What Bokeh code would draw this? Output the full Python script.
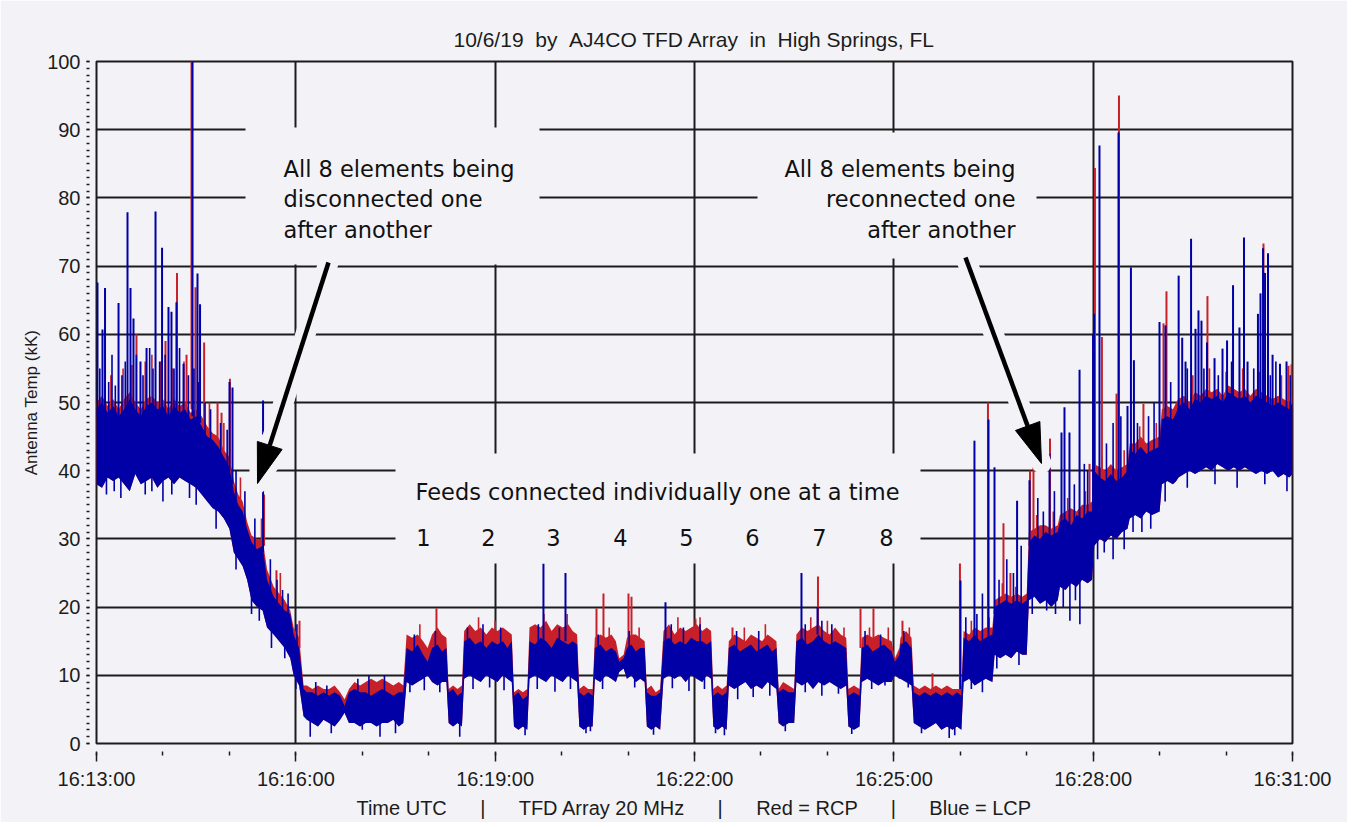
import math
import numpy as np
from bokeh.plotting import figure
from bokeh.models import FixedTicker, Label, ColumnDataSource
from bokeh.embed import file_html
from bokeh.resources import INLINE

# ---------------- data ----------------
tick_seconds = [0, 180, 360, 540, 720, 900, 1080]          # seconds after 16:13:00 UTC
tick_labels = ["16:13:00", "16:16:00", "16:19:00", "16:22:00", "16:25:00", "16:28:00", "16:31:00"]
minor_seconds = list(range(0, 1081, 60))
y_major = list(range(0, 101, 10))
y_minor = list(range(0, 101, 1))

# dense band: time (s after 16:13:00), LCP low/high envelope, RCP high envelope (kK)
t_s = [0, 5, 10, 15, 20, 25, 30, 35, 40, 45, 50, 55, 60, 65, 70, 75, 80, 85, 90,
       95, 100, 105, 110, 115, 120, 124, 128, 132, 136, 140, 145, 150, 154, 160, 165, 170, 175, 178, 183, 187,
       190, 195, 200, 205, 210, 215, 220, 224, 228, 233, 238, 243, 248, 253, 258, 263, 268, 273, 277,
       280, 285, 290, 295, 299, 303, 308, 312, 316,
       318, 322, 326, 330,
       332, 337, 342, 347, 352, 357, 362, 367, 371, 375,
       377, 381, 385, 389,
       391, 396, 401, 406, 411, 416, 421, 426, 430, 434,
       436, 440, 444, 448,
       450, 455, 460, 465, 469, 472, 476, 479, 483, 487, 491, 495,
       497, 501, 505, 509,
       512, 517, 522, 527, 532, 537, 542, 547, 551, 555,
       557, 561, 565, 569,
       571, 576, 581, 586, 591, 596, 601, 606, 610, 614,
       616, 620, 625, 630,
       632, 637, 642, 647, 652, 657, 662, 667, 672, 677,
       679, 684, 689,
       691, 696, 701, 706, 711, 718, 721, 725, 726, 731, 736,
       738, 743, 748, 753, 758, 763, 768, 773, 777, 781,
       783, 788, 793, 798, 803, 809,
       811, 816, 821, 826, 831, 836, 840,
       842, 847, 852, 857, 862, 868,
       870, 875, 880, 885, 890, 895, 899,
       901, 906, 911, 916, 921, 926, 931,
       933, 938, 943, 948, 953, 960,
       962, 967, 972, 975,
       977, 982, 987, 992, 997, 1002, 1007, 1012, 1017, 1022, 1027, 1032, 1037, 1042, 1047, 1052,
       1057, 1062, 1067, 1072, 1077, 1080]
lcp_lo = [38, 37.5, 39, 38.5, 39, 38, 37, 39.5, 38, 38.5, 39, 37.5, 38.5, 39, 38, 39, 38.5, 38, 37.5,
          36.5, 35.5, 34.5, 34, 33, 31.5, 28, 27, 26, 24, 21, 20, 19.5, 17, 16, 15, 14, 12.5, 10, 8.5, 4,
          3.5, 3, 2.5, 3.5, 3, 2.5, 3.5, 4.5, 3, 3, 2.5, 3, 3, 2.5, 3, 3, 3.5, 2.5, 3,
          9, 8.5, 9, 9.5, 10, 9, 8.5, 9, 9,
          3, 2.5, 3, 2.5,
          9.5, 10, 9.5, 9, 10, 9.5, 9, 10, 9.5, 9,
          2.5, 2, 2.5, 2,
          9.5, 10, 9.5, 9, 10, 9.5, 9, 10, 9.5, 9,
          2.5, 2, 2.5, 2.5,
          9.5, 9, 10, 9.5, 9, 10.5, 11, 9.5, 10, 9, 9.5, 9,
          2.5, 2, 2.5, 2,
          9.5, 10, 9.5, 10, 9, 10, 9.5, 9, 10, 9.5,
          2.5, 2, 2.5, 2,
          8.5, 8, 8.5, 9, 8, 8.5, 8, 9, 8.5, 8,
          3, 2.5, 3, 3,
          9, 8.5, 9, 8, 9, 8.5, 9, 8.5, 8, 8.5,
          2.5, 2, 2.5,
          9, 9.5, 9, 8.5, 9, 9, 10, 9.5, 9.5, 9, 8.5,
          3, 2.5, 2, 2.5, 3, 2, 2.5, 2, 2.5, 2,
          9, 9.5, 8.5, 9, 9.5, 9,
          13, 12.5, 13, 12.5, 13.5, 13, 13,
          21, 21.5, 20.5, 21, 20, 21,
          23, 22.5, 23.5, 23, 24, 23.5, 24,
          29, 30, 29.5, 30.5, 30, 31, 31.5,
          33, 33.5, 33, 34, 33.5, 34,
          38, 38.5, 38, 38.5,
          39, 39.5, 40, 39.5, 40, 40.5, 40, 41, 40.5, 40, 40.5, 40, 40.5, 40, 39.5, 40,
          39.5, 40, 39, 39.5, 39, 39.5]
lcp_hi = [49, 50, 48.5, 49.5, 48, 49, 50.5, 49, 48, 49.5, 50, 49, 49.5, 48, 49.5, 48.5, 49, 47.5, 48,
          46.5, 45, 44.5, 43.5, 42, 40.5, 37, 35, 34, 31.5, 29.5, 28.5, 29, 24, 21.5, 20.5, 19.5, 19, 16, 14, 8,
          7.5, 7.5, 7, 7.5, 7, 7.5, 7, 5.5, 7.5, 8, 7.5, 7.5, 7, 7.5, 8, 7.5, 7, 7.5, 7.5,
          14, 13.5, 14.5, 13, 12, 14, 14.5, 13.5, 14,
          7.5, 8, 7, 7.5,
          15, 15.5, 14.5, 15, 14, 15, 14.5, 15, 14, 15,
          7, 7.5, 6.5, 7,
          15, 14.5, 15.5, 15, 14, 15.5, 15, 14.5, 15, 14.5,
          7.5, 7, 7.5, 7,
          14, 14.5, 13.5, 14, 13.5, 12, 12.5, 14, 14.5, 13.5, 14, 14,
          7.5, 7, 7, 7.5,
          15, 15.5, 14.5, 15, 14.5, 15.5, 15, 15, 14.5, 15,
          7, 7.5, 7, 7.5,
          14, 14.5, 13.5, 14, 14.5, 13.5, 14, 14.5, 13.5, 14,
          7.5, 8, 7.5, 7.5,
          15, 15.5, 14.5, 15, 16, 15, 14.5, 15, 14.5, 14,
          7, 7.5, 7,
          14, 14.5, 13.5, 14, 14.5, 13.5, 12, 13, 14.5, 15, 14,
          7.5, 7, 7.5, 7, 7.5, 7, 7.5, 7, 7.5, 7,
          15.5, 15, 16, 15, 15.5, 16,
          20, 20.5, 21, 20.5, 21, 20.5, 21,
          29.5, 30.5, 30, 31, 30.5, 31,
          32.5, 33, 32, 33.5, 33, 34, 34,
          40, 39, 38.5, 39.5, 38.5, 39, 40,
          43, 42.5, 43.5, 42.5, 43, 43.5,
          47.5, 48, 47.5, 48.5,
          49.5, 50, 49, 50.5, 50, 51, 50.5, 51, 50, 51.5, 51, 50.5, 51, 50, 51, 50.5,
          50, 49.5, 50, 49.5, 49, 50]
rcp_hi = [50, 51, 49.5, 50.5, 49, 50.5, 51.5, 50, 49, 50.5, 51, 50, 50.5, 49, 50.5, 49.5, 50, 48.5, 49,
          48, 46.5, 45.5, 45, 43, 42, 38.5, 36.5, 35.5, 32.5, 30.5, 30, 30, 25.5, 23, 22, 21, 19.5, 17, 15.5, 8.5,
          8.5, 8, 8.5, 8, 8, 8.5, 7.5, 6.5, 8, 9, 8.5, 9, 9.5, 9, 9.5, 9, 8.5, 9, 8.5,
          16, 15.5, 16, 15, 14, 16, 17, 16, 15.5,
          8, 8.5, 8, 8.5,
          16.5, 17.5, 16.5, 17, 16, 17, 16.5, 17, 16.5, 16,
          7.5, 8, 7.5, 8,
          17, 17.5, 17, 18, 16.5, 17.5, 17, 17.5, 16.5, 16,
          8, 8.5, 8, 8,
          15.5, 16, 15.5, 16, 15, 12.5, 13, 15.5, 16, 16, 15.5, 15,
          8, 8.5, 7.5, 8,
          16.5, 17.5, 16, 17, 16.5, 17, 17.5, 16.5, 17, 16.5,
          8, 8.5, 8, 8.5,
          15, 16, 15.5, 15, 16, 15.5, 15, 16, 15.5, 15,
          8, 9, 8.5, 8,
          16, 17, 16.5, 17, 17.5, 16.5, 16, 17, 16, 15.5,
          8, 8.5, 8,
          15.5, 16, 15.5, 16, 15.5, 15, 12.5, 14, 15.5, 16.5, 15.5,
          8.5, 8, 8.5, 8, 8.5, 8, 8.5, 8, 8, 8,
          16.5, 16, 17, 16.5, 17, 17,
          21, 21.5, 22, 21.5, 22, 21.5, 22,
          31, 31.5, 32, 32, 31.5, 32,
          33.5, 34, 34.5, 34, 35, 35, 35.5,
          41, 40.5, 40, 41, 40, 40.5, 41,
          44, 44, 45, 44, 44.5, 45,
          49, 49.5, 49, 50,
          50.5, 51, 50, 51.5, 51, 52, 51.5, 52, 51, 52.5, 52, 51.5, 52, 51, 52, 51.5,
          51, 50.5, 51, 50.5, 50, 51]

# isolated spikes (time s, from, to) for LCP (blue) and RCP (red)
lcp_spike_t = [0.9, 5.4, 7.7, 19.9, 28.0, 30.7, 33.4, 39.7, 45.2, 53.3, 59.2, 65.0, 67.7, 72.2, 78.6, 86.7,
               91.2, 93.5, 120.1, 122.8, 150.4,
               403.6, 423.5, 513.8, 636.6, 651.1,
               780.2, 792.8, 805.5, 810.9, 831.3, 842.5, 860.6, 871.4, 874.1, 878.6, 887.7, 899.9, 900.8,
               905.7, 922.9, 931.0, 934.1, 936.8, 959.9, 965.3, 977.2, 980.4, 983.4, 988.4, 992.4, 995.1,
               997.8, 1002.8, 1009.6, 1016.8, 1020.9, 1026.3, 1032.1, 1036.2, 1039.4, 1048.8, 1051.1,
               1053.4, 1055.2, 1057.9, 1062.0, 1068.7, 1074.6]
lcp_spike_lo = [48, 48, 48, 48, 48, 48, 48, 48, 48, 48, 48, 48, 48, 48, 48, 48,
                47, 47, 40, 38, 28,
                15, 15, 15, 15, 16,
                8, 15, 15, 19, 20, 29, 30, 32, 32, 32, 33, 33, 33,
                38, 38, 39, 42, 42, 42, 47, 48, 48, 48, 49, 49, 49,
                49, 50, 50, 49, 50, 50, 49, 50, 50, 49, 49,
                49, 49, 49, 49, 48, 48]
lcp_spike_hi = [67.6, 60.7, 66.8, 64.6, 77.9, 66.8, 62.3, 56, 58, 78, 72.7, 64, 63.3, 64.7, 55.7, 100,
                68.9, 64.4, 53, 52.2, 50.3,
                26.4, 25, 20.7, 25, 20,
                23.9, 44.4, 47.5, 40.5, 35.6, 38.6, 42.5, 45.6, 49.3, 45.6, 54.8, 60, 63,
                87.7, 89.6, 49.5, 69.8, 56.2, 61.8, 61.3, 68.6, 59.5, 56, 74, 60.8, 63.5,
                62, 58.8, 56.5, 57.9, 59.1, 67.2, 61, 74.2, 56, 63, 66,
                72.6, 69, 71.9, 57, 55.7, 56]
rcp_spike_t = [36.1, 62.3, 72.7, 81.3, 85.8, 89.4, 97.2, 109.3, 112.9, 120.5, 151.3, 162.5, 183.3,
               307.0, 451.5, 457.8, 480.4, 483.1, 540.9, 574.3, 651.5, 689.9, 701.6, 727.8, 754.9,
               779.7, 805.0, 819.0, 825.3, 843.0, 846.1, 861.0, 896.7, 901.6, 907.9, 921.1, 923.3,
               945.4, 963.5, 966.2, 1003.2, 1053.8, 1076.4, 1079.1]
rcp_spike_lo = [49, 49, 49, 49, 49, 48, 46, 45, 43, 41, 29, 22, 14,
                15, 14, 14, 14, 14, 15, 14, 16, 14, 14, 14, 7,
                7, 15, 20, 20, 30, 30, 31, 34, 39, 39, 39, 39,
                43, 47, 47, 50, 50, 50, 50]
rcp_spike_hi = [60, 59, 69, 57, 100, 66.9, 58.8, 50, 48.5, 53.5, 36.5, 25.4, 18,
                19.8, 19.8, 22, 22, 21.5, 18.3, 17, 24.5, 19.8, 19.8, 18, 10.3,
                26.4, 50, 32.3, 25, 40, 41, 44.7, 41, 84.4, 59.6, 51.3, 95,
                49.8, 61.6, 66.3, 65.6, 73.3, 55.4, 55.6]

# smaller fringe excursions beyond the dense band (time s, tip value kK)
lcp_up_t = [3, 11, 14, 17, 23, 26, 36, 42, 48, 51, 57, 62, 70, 75, 83, 88, 92,
            98, 103, 112, 118, 126, 134, 143, 157, 163, 168, 173, 181,
            198, 208, 236, 246, 260,
            287, 306, 335, 349, 365, 399, 418, 453, 481, 519, 530, 545, 578, 598, 640, 655, 664, 694, 708, 729,
            785, 795, 800, 815, 822, 828, 835, 850, 855, 865, 883, 892, 895, 912, 918, 925, 940, 950, 955,
            970, 985, 1000, 1013, 1025, 1045, 1060, 1065, 1078]
lcp_up_to = [55, 53, 57, 52.5, 54, 56, 57, 54, 58, 55, 56, 57, 55, 58, 54, 55, 53,
             50, 49, 47, 46, 40, 37, 33, 27, 24, 22.5, 22, 17.5,
             9, 8.5, 9.5, 10, 10,
             16, 16.5, 17, 17.5, 17, 17.5, 17, 16, 16.5, 17.5, 17, 17.5, 16.5, 16.5, 17.5, 18, 17.5, 16.5, 16, 16.5,
             18.5, 19, 22, 24, 27, 25, 29, 36, 34, 37, 38, 41, 40, 44, 47, 48, 47, 48, 50,
             53, 55, 55, 54, 56, 55, 54, 56, 54]
lcp_dn_t = [9, 16, 22, 44, 50, 60, 68, 84, 90,
            108, 126, 140, 147, 158, 170, 180,
            193, 212, 240, 256, 270, 328, 387, 442, 446, 503, 559, 567, 622, 682, 745, 770, 775,
            283, 296, 310, 340, 355, 368, 398, 414, 428, 457, 486, 520, 535, 549, 579, 593, 608, 640, 655,
            670, 700, 712, 733, 790, 800,
            813, 833, 845, 858, 866, 873, 879, 884, 888, 904, 910, 918, 928, 936, 944, 952, 965, 985,
            1010, 1030, 1055, 1075]
lcp_dn_to = [36.5, 37, 36, 36.5, 37, 35.5, 36.5, 36, 35,
             31.5, 25.5, 19, 18, 14, 12.5, 8,
             1, 1.5, 2, 1, 1.5, 1, 1.2, 1.5, 1.8, 1.3, 1.5, 1.2, 1.8, 1.4, 1.5, 0.8, 1.2,
             7.5, 7.8, 7.5, 8, 8.2, 7.8, 8, 7.6, 8, 8, 8.2, 8.1, 7.7, 8, 6.5, 6.8, 7, 7.5, 7,
             7.3, 8, 8.5, 8.2, 8, 7.5,
             11, 11.5, 19, 19.5, 19, 20, 18, 21, 17.5, 27, 28, 27, 28.5, 31, 31, 31.5, 35.5, 37.5,
             38, 37.5, 38, 37]
rcp_up_t = [13, 24, 32, 44, 50, 58, 69, 79, 102, 115, 130, 149, 166,
            292, 345, 360, 404, 425, 463, 490, 525, 545, 585, 604, 645, 660, 675, 698, 715, 734,
            790, 806, 818, 830, 849, 864, 877, 893, 908, 928, 942, 957, 990, 1005, 1020, 1035, 1050, 1070]
rcp_up_to = [54, 55, 55.5, 56, 57, 56, 55, 56, 50, 47, 39, 33, 25,
             17.5, 18.5, 18, 19, 19, 17, 17, 18.5, 18.5, 17, 17.5, 18.5, 18, 17, 17, 17, 17,
             18, 18.5, 23.5, 23, 33.5, 34, 36, 37, 42, 43, 46.5, 47, 54, 55, 54.5, 55, 54.5, 54]

# ---------------- styling / layout ----------------
BG = "#F3F3F7"
INK = "#1c1c1c"
BLUE = "#0000A6"
RED = "#C8202A"
FX0, FY0, FW, FH = 96, 61, 1196, 682     # frame position on the page (px)


def dx(px):
    return (px - FX0) / FW * 1080.0


def dy(py):
    return (FY0 + FH - py) / FH * 100.0


p = figure(frame_width=FW, frame_height=FH, x_range=(0, 1080), y_range=(0, 100),
           min_border_left=96, min_border_right=55, min_border_top=61, min_border_bottom=79,
           output_backend="svg", toolbar_location=None)
p.background_fill_color = BG
p.border_fill_color = BG
p.outline_line_color = INK
p.outline_line_width = 2

NB = "\u00a0"
p.title.text = "10/6/19 " + NB + "by " + NB + "AJ4CO TFD Array " + NB + "in " + NB + "High Springs, FL"
p.title.align = "center"
p.title.text_font = "Liberation Sans"
p.title.text_font_size = "21px"
p.title.text_font_style = "normal"
p.title.text_color = INK
p.title.standoff = 21

# axes
p.xaxis.ticker = FixedTicker(ticks=tick_seconds, minor_ticks=minor_seconds)
p.xaxis.major_label_overrides = {k: v for k, v in zip(tick_seconds, tick_labels)}
p.yaxis.ticker = FixedTicker(ticks=y_major, minor_ticks=y_minor)
for ax in (p.xaxis[0], p.yaxis[0]):
    ax.axis_line_color = None
    ax.major_tick_line_color = INK
    ax.minor_tick_line_color = INK
    ax.major_tick_line_width = 1.5
    ax.minor_tick_line_width = 1.5
    ax.major_label_text_font = "Liberation Sans"
    ax.major_label_text_font_size = "20px"
    ax.major_label_text_color = INK
    ax.axis_label_text_font = "Liberation Sans"
    ax.axis_label_text_font_style = "normal"
    ax.axis_label_text_color = INK
p.xaxis.major_tick_in = -9
p.xaxis.major_tick_out = 18
p.xaxis.minor_tick_in = -8
p.xaxis.minor_tick_out = 12
p.xaxis.major_label_standoff = 6
p.yaxis.major_tick_in = -7
p.yaxis.major_tick_out = 10
p.yaxis.minor_tick_in = -7
p.yaxis.minor_tick_out = 10
p.yaxis.major_label_standoff = 6

sep = " " + NB * 5 + "|" + " " + NB * 5
p.xaxis.axis_label = "Time UTC" + sep + "TFD Array 20 MHz" + sep + "Red = RCP" + sep + "Blue = LCP"
p.xaxis.axis_label_text_font_size = "20px"
p.xaxis.axis_label_standoff = 4
p.yaxis.axis_label = "Antenna Temp (kK)"
p.yaxis.axis_label_text_font_size = "17px"
p.yaxis.axis_label_standoff = 3

p.xgrid.grid_line_color = INK
p.xgrid.grid_line_width = 2
p.ygrid.grid_line_color = INK
p.ygrid.grid_line_width = 2

# data
band = ColumnDataSource(dict(t=t_s, lo=lcp_lo, hi=lcp_hi, rhi=rcp_hi))
mid = (np.array(lcp_lo) + np.array(lcp_hi)) / 2.0


def base(ts):
    return list(np.interp(ts, t_s, mid))


p.varea(x="t", y1="lo", y2="rhi", source=band, fill_color=RED)
p.segment(x0=rcp_spike_t, y0=rcp_spike_lo, x1=rcp_spike_t, y1=rcp_spike_hi,
          line_color=RED, line_width=2)
p.segment(x0=rcp_up_t, y0=base(rcp_up_t), x1=rcp_up_t, y1=rcp_up_to, line_color=RED, line_width=1.6)
p.varea(x="t", y1="lo", y2="hi", source=band, fill_color=BLUE)
p.segment(x0=lcp_up_t, y0=base(lcp_up_t), x1=lcp_up_t, y1=lcp_up_to, line_color=BLUE, line_width=1.6)
p.segment(x0=lcp_dn_t, y0=base(lcp_dn_t), x1=lcp_dn_t, y1=lcp_dn_to, line_color=BLUE, line_width=1.6)
p.segment(x0=lcp_spike_t, y0=lcp_spike_lo, x1=lcp_spike_t, y1=lcp_spike_hi,
          line_color=BLUE, line_width=2)

# annotation boxes (hide the grid behind the callout texts)
boxes = [(245, 127, 539, 264), (757, 132, 1036, 258), (395, 453, 920, 563)]
p.quad(left=[dx(b[0]) for b in boxes], right=[dx(b[2]) for b in boxes],
       top=[dy(b[1]) for b in boxes], bottom=[dy(b[3]) for b in boxes],
       fill_color=BG, line_color=None)


def arrow(x0, y0, x1, y1):
    L = math.hypot(x1 - x0, y1 - y0)
    ux, uy = (x1 - x0) / L, (y1 - y0) / L
    px_, py_ = -uy, ux
    bx, by = x1 - 40 * ux, y1 - 40 * uy
    head = [(x1, y1), (bx + 13 * px_, by + 13 * py_), (bx - 13 * px_, by - 13 * py_)]
    hx = [dx(a) for a, _ in head]
    hy = [dy(b) for _, b in head]
    p.line([dx(x0), dx(x1)], [dy(y0), dy(y1)], line_color=BG, line_width=20, line_cap="round")
    p.patch(hx, hy, fill_color=BG, line_color=BG, line_width=16, line_join="round")
    p.line([dx(x0), dx(bx)], [dy(y0), dy(by)], line_color="black", line_width=4.5)
    p.patch(hx, hy, fill_color="black", line_color="black", line_width=1)


arrow(328, 262, 257, 483)
arrow(965, 257, 1041, 463)

ANN_FONT = "DejaVu Sans"
ANN_SIZE = "22.5px"


def lab(text, x, y, align="left"):
    p.add_layout(Label(x=dx(x), y=dy(y), text=text, text_align=align, text_baseline="middle",
                       text_font=ANN_FONT, text_font_size=ANN_SIZE, text_color="#111111"))


for i, s in enumerate(["All 8 elements being", "disconnected one", "after another"]):
    lab(s, 283, 168 + 30.5 * i, "left")
for i, s in enumerate(["All 8 elements being", "reconnected one", "after another"]):
    lab(s, 1015, 168 + 30.5 * i, "right")
lab("Feeds connected individually one at a time", 657, 491, "center")
feed_numbers = ["1", "2", "3", "4", "5", "6", "7", "8"]
for s, xp in zip(feed_numbers, [423, 488, 553, 620, 686, 752, 819, 886]):
    lab(s, xp, 537, "center")

open("out.html", "w").write(file_html(p, INLINE))
